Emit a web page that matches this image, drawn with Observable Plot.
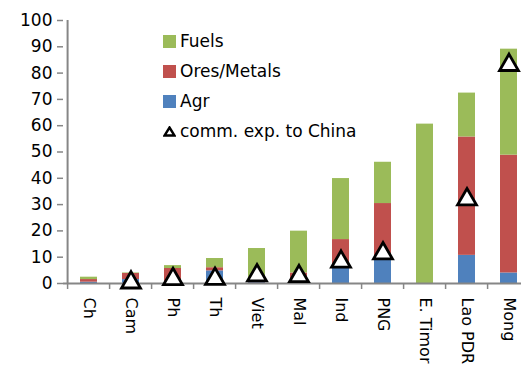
<!DOCTYPE html>
<html>
<head>
<meta charset="utf-8">
<script src="https://cdn.jsdelivr.net/npm/d3@7"></script>
<script src="https://cdn.jsdelivr.net/npm/@observablehq/plot@0.6"></script>
<style>
  html, body { margin: 0; padding: 0; background: #fff; overflow: hidden; }
  #wrap { position: relative; width: 521px; height: 366px; overflow: hidden; font-family: "DejaVu Sans", sans-serif; }
  #chart svg { max-width: none !important; width: 540px !important; height: 366px !important; display: block; }
  #legend { position: absolute; left: 163px; top: 26px; font-size: 17px; color: #000; }
  #legend .row { height: 30px; display: flex; align-items: center; }
  #legend .sw { width: 13px; height: 13px; margin-right: 4px; }
  #legend svg.tri { margin-right: 4px; }
</style>
</head>
<body>
<div id="wrap"><div id="chart"></div><div id="legend"></div></div>
<script>
const categories = ["Ch", "Cam", "Ph", "Th", "Viet", "Mal", "Ind", "PNG", "E. Timor", "Lao PDR", "Mong"];
const agr   = [0.5, 1.5, 0.5, 4.8, 0.3, 0.5, 5.7, 9.5, 0, 10.7, 4.0];
const ores  = [1.0, 2.3, 5.2, 1.2, 2.0, 3.5, 11.0, 20.9, 0, 45.0, 44.8];
const fuels = [0.9, 0.2, 1.1, 3.5, 11.0, 15.9, 23.2, 15.7, 60.6, 16.7, 40.3];
const chinaExp = [null, 1.5, 2.8, 2.9, 4.2, 3.9, 9.4, 12.6, null, 33.1, 84.2];
const seriesNames = ["Agr", "Ores/Metals", "Fuels"];
const seriesColors = ["#4F81BD", "#C0504D", "#9BBB59"];
const yTicks = [0, 10, 20, 30, 40, 50, 60, 70, 80, 90, 100];

const seriesValues = [agr, ores, fuels];
const rows = [];
seriesNames.forEach((s, si) => categories.forEach((c, ci) => rows.push({country: c, type: s, value: seriesValues[si][ci]})));
const pts = categories.map((c, i) => ({country: c, v: chinaExp[i]})).filter(d => d.v != null);

const W = 540, H = 366, ML = 63, MR = 6, MT = 20, MB = 83;
const plotW = W - ML - MR;
const step = plotW / categories.length;
const gray = "#868686";

const chart = Plot.plot({
  width: W, height: H,
  marginLeft: ML, marginRight: MR, marginTop: MT, marginBottom: MB,
  style: {fontFamily: "DejaVu Sans, sans-serif", fontSize: "17px", color: "#000", background: "transparent", overflow: "visible", maxWidth: "none"},
  x: {domain: categories, paddingInner: 0.6, paddingOuter: 0.3, axis: null},
  y: {domain: [0, 100], axis: null},
  color: {domain: seriesNames, range: seriesColors},
  marks: [
    Plot.barY(rows, {x: "country", y: "value", fill: "type"}),
    Plot.ruleY([0], {stroke: gray, strokeWidth: 2}),
    Plot.ruleX([categories[0]], {x: d => d, y1: 0, y2: 100, dx: -step / 2, stroke: gray, strokeWidth: 2}),
    Plot.ruleX(categories, {x: d => d, y1: 0, y2: 0, insetBottom: -6, dx: -step / 2, stroke: gray, strokeWidth: 1.5}),
    Plot.ruleY(yTicks, {y: d => d, insetLeft: -6, insetRight: plotW, stroke: gray, strokeWidth: 1.5}),
    Plot.text(yTicks, {y: d => d, frameAnchor: "left", textAnchor: "end", dx: -11, fill: "#000", fontSize: 17}),
    Plot.text(categories, {x: d => d, frameAnchor: "bottom", rotate: 90, textAnchor: "start", lineAnchor: "middle", dy: 14, fill: "#000", fontSize: 16}),
    Plot.dot(pts, {x: "country", y: "v", symbol: "triangle", r: 7, dy: 3, fill: "#fff", stroke: "#000", strokeWidth: 2.8})
  ]
});
document.getElementById("chart").appendChild(chart);

const legend = document.getElementById("legend");
const legendItems = [["Fuels", "#9BBB59"], ["Ores/Metals", "#C0504D"], ["Agr", "#4F81BD"]];
legendItems.forEach(([name, col]) => {
  const r = document.createElement("div");
  r.className = "row";
  r.innerHTML = `<div class="sw" style="background:${col}"></div><span>${name}</span>`;
  legend.appendChild(r);
});
const tr = document.createElement("div");
tr.className = "row";
tr.innerHTML = `<svg class="tri" width="13" height="11" viewBox="0 0 13 11"><polygon points="6.5,1.5 11.5,9.5 1.5,9.5" fill="#fff" stroke="#000" stroke-width="2.4" stroke-linejoin="miter"/></svg><span>comm. exp. to China</span>`;
legend.appendChild(tr);
</script>
</body>
</html>
